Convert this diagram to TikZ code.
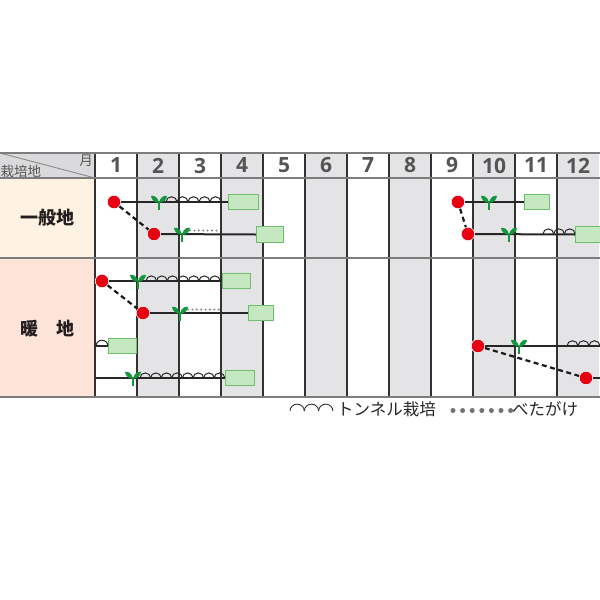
\documentclass[tikz,border=0pt]{standalone}
\usepackage{fontspec}
\newfontfamily\jp{Noto Sans CJK JP}
\newfontfamily\numf{Open Sans}
\definecolor{gcol}{RGB}{228,228,230}
\definecolor{hcol}{RGB}{218,218,220}
\definecolor{cream}{RGB}{254,242,226}
\definecolor{salmon}{RGB}{252,228,216}
\definecolor{vline}{RGB}{50,50,50}
\definecolor{hline}{RGB}{125,125,125}
\definecolor{dotred}{RGB}{230,0,18}
\definecolor{bfill}{RGB}{198,232,192}
\definecolor{bdraw}{RGB}{110,190,110}
\definecolor{seedc}{RGB}{20,150,60}
\definecolor{numc}{RGB}{85,85,85}
\definecolor{txtc}{RGB}{35,30,30}
\newcommand\seedling[2]{%
  \draw[seedc, line width=2.2pt] (#1,#2-1) -- (#1,#2+8);
  \fill[seedc] (#1,#2+0.5) .. controls (#1-1.3,#2-5) and (#1-5,#2-7) .. (#1-8,#2-6) .. controls (#1-7.5,#2-2) and (#1-4,#2+1.2) .. (#1,#2+0.5) -- cycle;
  \fill[seedc] (#1,#2+0.5) .. controls (#1+1.3,#2-5) and (#1+5,#2-7) .. (#1+8,#2-6) .. controls (#1+7.5,#2-2) and (#1+4,#2+1.2) .. (#1,#2+0.5) -- cycle;
}
\newcommand\tunnelarcs[4]{% x0, y, n, w
  \foreach \k in {1,...,#3}{%
    \draw[tun] ({#1+(\k-1)*#4},#2) arc[start angle=180,end angle=360,x radius=#4/2,y radius=#4*0.48];
  }%
}
\tikzset{
  bar/.style={line width=2pt, draw=black!85},
  rdotn/.style={circle, fill=dotred, draw=white, line width=0.6pt, minimum size=13.5pt, inner sep=0pt},
  gbox/.style={rectangle, fill=bfill, draw=bdraw, line width=1pt, minimum height=15.5pt, inner sep=0pt},
  dashline/.style={line width=2.2pt, draw=black!90, dash pattern=on 5pt off 3.5pt},
  dotline/.style={line width=2.2pt, draw=black!50, dash pattern=on 0pt off 4.4pt, line cap=round},
  tun/.style={line width=1pt, draw=black!85},
  vgrid/.style={line width=1.5pt, draw=vline},
  hgrid/.style={line width=2pt, draw=hline},
  month/.style={font=\numf\bfseries\fontsize{21}{21}\selectfont, text=numc},
  place/.style={font=\jp\bfseries\fontsize{18}{18}\selectfont, text=txtc},
  legtext/.style={font=\jp\fontsize{16.5}{16.5}\selectfont, text=black!85, inner sep=0pt}
}
\begin{document}
\begin{tikzpicture}[x=1pt,y=-1pt]
\useasboundingbox (0,0) rectangle (600,600);
\fill[white] (0,0) rectangle (600,600);
% backgrounds
\fill[hcol] (0,153) rectangle (95,178);
\fill[cream] (0,178) rectangle (95,258);
\fill[salmon] (0,258) rectangle (95,397);
\foreach \i in {1,3,5,7,9,11}{
  \fill[gcol] ({95+42*\i},153) rectangle ({137+42*\i},397);
}
% header
\draw[line width=0.9pt, draw=black!45] (0,153) -- (95,178);
\node[font=\jp\fontsize{13.5}{13.5}\selectfont, text=numc] (hplace) at (21,171) {栽培地};
\node[font=\jp\fontsize{13.5}{13.5}\selectfont, text=numc] (hmonth) at (86,161) {月};
\foreach \m in {1,...,12}{
  \node[month] (m\m) at ({95+42*\m-21},165.5) {\m};
}
% grid
\foreach \i in {0,...,11}{
  \draw[vgrid] ({95+42*\i},153) -- ({95+42*\i},397);
}
\foreach \yy in {153,178,258,397}{
  \draw[hgrid] (0,\yy) -- (600,\yy);
}
% place labels
\node[place] (p1) at (47,218) {一般地};
\node[place] (p2) at (47,329) {暖　地};
% ---- row 1 (一般地)
\node[rdotn] (d1) at (114,202) {};
\node[rdotn] (d2) at (154,234) {};
\node[gbox, minimum width=30pt, anchor=west] (b1) at (227.5,202) {};
\node[gbox, minimum width=27pt, anchor=west] (b2) at (256,234.5) {};
\draw[bar] (d1) -- (b1.west);
\draw[bar] (d2) -- (b2.west);
\draw[dashline] (d1) -- (d2);
\tunnelarcs{166}{202}{5}{11}
\seedling{159}{202}
\draw[dotline] (190,230.5) -- (218,230.5);
\seedling{182}{234}
\node[rdotn] (d3) at (458,202) {};
\node[rdotn] (d4) at (468,234) {};
\node[gbox, minimum width=25pt, anchor=west] (b3) at (524,202) {};
\node[gbox, minimum width=28pt, anchor=west] (b4) at (575,234.5) {};
\draw[bar] (d3) -- (b3.west);
\draw[bar] (d4) -- (b4.west);
\draw[dashline] (d3) -- (d4);
\tunnelarcs{543}{234}{3}{10.7}
\seedling{489}{202}
\seedling{509}{234}
% ---- row 2 (暖地)
\node[rdotn] (d5) at (102,281) {};
\node[rdotn] (d6) at (143,313) {};
\node[gbox, minimum width=28pt, anchor=west] (b5) at (222,281) {};
\node[gbox, minimum width=25pt, anchor=west] (b6) at (248,313) {};
\draw[bar] (d5) -- (b5.west);
\draw[bar] (d6) -- (b6.west);
\draw[dashline] (d5) -- (d6);
\tunnelarcs{146}{281}{7}{10.6}
\seedling{138}{281}
\draw[dotline] (188,309.5) -- (219,309.5);
\seedling{180}{313}
\coordinate (l1) at (95,346);
\node[gbox, minimum width=28pt, anchor=west] (b7) at (108,346) {};
\draw[bar] (l1) -- (b7.west);
\tunnelarcs{96}{346}{1}{12}
\coordinate (l2) at (95,378);
\node[gbox, minimum width=29pt, anchor=west] (b8) at (225,378) {};
\draw[bar] (l2) -- (b8.west);
\tunnelarcs{140}{378}{8}{10.6}
\seedling{133}{378}
\node[rdotn] (d7) at (478,346) {};
\node[rdotn] (d8) at (586,378) {};
\coordinate (e1) at (600,346);
\coordinate (e2) at (600,378);
\draw[bar] (d7) -- (e1);
\draw[bar] (d8) -- (e2);
\draw[dashline] (d7) -- (d8);
\tunnelarcs{567}{346}{3}{11}
\seedling{519}{346}
\node[rdotn] at (478,346) {};
\node[rdotn] at (586,378) {};
% ---- legend
\begin{scope}[tun/.style={line width=0.9pt, draw=black!80}]
\tunnelarcs{290}{411}{3}{14.3}
\end{scope}
\node[legtext, anchor=west] (lg1) at (337,409) {トンネル栽培};
\foreach \k in {0,...,6}{
  \fill[black!55] ({453+9.6*\k},410.5) circle (2.5pt);
}
\node[legtext, anchor=west] (lg2) at (512,409) {べたがけ};
\end{tikzpicture}
\end{document}
